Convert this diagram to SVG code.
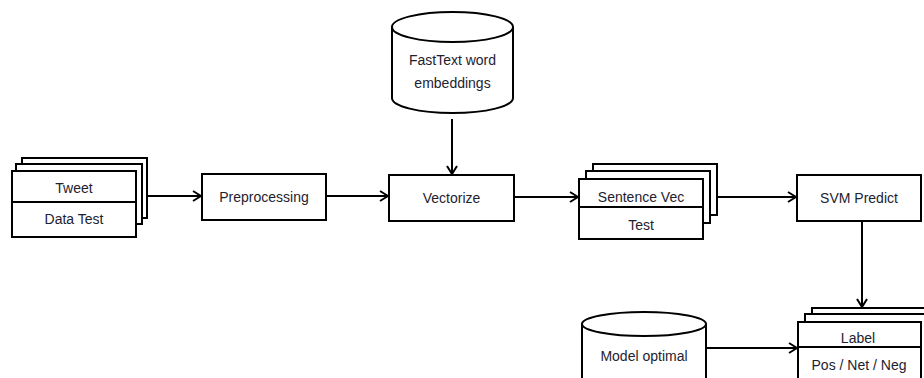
<svg xmlns="http://www.w3.org/2000/svg" width="924" height="378" viewBox="0 0 924 378">
<defs>
<style>
.b{fill:#fff;stroke:#000;stroke-width:2}
.l{fill:none;stroke:#000;stroke-width:2}
.t{font-family:"Liberation Sans",Arial,sans-serif;font-size:14px;fill:#1e2230;text-anchor:middle}
</style>
<marker id="a" viewBox="0 0 12 12" refX="11" refY="6" markerWidth="12" markerHeight="12" markerUnits="userSpaceOnUse" orient="auto">
<polyline points="3,1 11,6 3,11" fill="none" stroke="#000" stroke-width="2"/>
</marker>
</defs>
<rect width="924" height="378" fill="#fff"/>
<g id="connectors">
<line class="l" x1="147" y1="196" x2="201" y2="196" marker-end="url(#a)"/>
<line class="l" x1="326" y1="196" x2="388" y2="196" marker-end="url(#a)"/>
<line class="l" x1="452" y1="119" x2="452" y2="174" marker-end="url(#a)"/>
<line class="l" x1="514" y1="197" x2="578" y2="197" marker-end="url(#a)"/>
<line class="l" x1="717" y1="197" x2="796" y2="197" marker-end="url(#a)"/>
<line class="l" x1="862" y1="221" x2="862" y2="307" marker-end="url(#a)"/>
<line class="l" x1="706" y1="348" x2="797" y2="348" marker-end="url(#a)"/>
</g>
<g id="tweet">
<rect class="b" x="22" y="158" width="125" height="60"/>
<rect class="b" x="16" y="164" width="126" height="60"/>
<rect class="b" x="12" y="171" width="124" height="66"/>
<line class="l" x1="12" y1="202" x2="136" y2="202"/>
<text class="t" x="74" y="193">Tweet</text>
<text class="t" x="74" y="224">Data Test</text>
</g>
<g id="preprocessing">
<rect class="b" x="202" y="174" width="124" height="46"/>
<text class="t" x="264" y="202">Preprocessing</text>
</g>
<g id="fasttext">
<path class="b" d="M392,27 L392,98 A60.5,15 0 0 0 513,98 L513,27 A60.5,15 0 0 0 392,27 Z"/>
<path class="l" d="M392,27 A60.5,15 0 0 0 513,27"/>
<text class="t" x="452.5" y="65">FastText word</text>
<text class="t" x="452.5" y="88">embeddings</text>
</g>
<g id="vectorize">
<rect class="b" x="389" y="175" width="125" height="46"/>
<text class="t" x="451.5" y="203">Vectorize</text>
</g>
<g id="sentence">
<rect class="b" x="593" y="164" width="124" height="51"/>
<rect class="b" x="586" y="171" width="124" height="52"/>
<rect class="b" x="579" y="179" width="124" height="60"/>
<line class="l" x1="579" y1="207" x2="703" y2="207"/>
<text class="t" x="641" y="202">Sentence Vec</text>
<text class="t" x="641" y="230">Test</text>
</g>
<g id="svm">
<rect class="b" x="797" y="175" width="124" height="46"/>
<text class="t" x="859" y="203">SVM Predict</text>
</g>
<g id="model">
<path class="b" d="M582,324 L582,390 L706,390 L706,324 A62,12 0 0 0 582,324 Z"/>
<path class="l" d="M582,324 A62,12 0 0 0 706,324"/>
<text class="t" x="644" y="361">Model optimal</text>
</g>
<g id="label">
<rect class="b" x="812" y="308" width="130" height="80"/>
<rect class="b" x="805" y="314" width="130" height="80"/>
<rect class="b" x="798" y="322" width="123" height="70"/>
<line class="l" x1="798" y1="347" x2="921" y2="347"/>
<text class="t" x="858" y="343">Label</text>
<text class="t" x="859" y="370">Pos / Net / Neg</text>
</g>
</svg>
